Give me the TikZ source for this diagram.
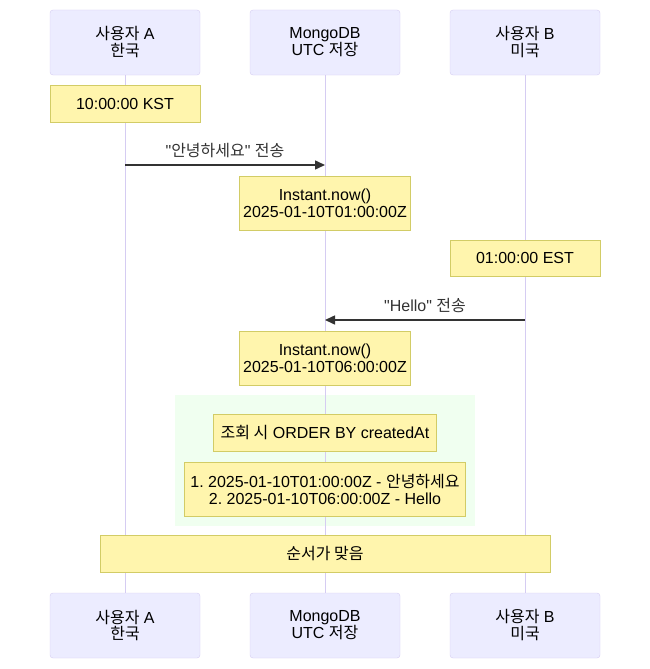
\documentclass[tikz,border=0pt]{standalone}
\usepackage{fontspec}
\setmainfont{Liberation Sans}
\newfontfamily\kr{Noto Sans CJK KR}
\usetikzlibrary{arrows.meta,positioning}
\frenchspacing
\definecolor{actorfill}{HTML}{ECECFF}
\definecolor{actorline}{HTML}{D5CCF2}
\definecolor{notefill}{HTML}{FFF5AD}
\definecolor{noteline}{HTML}{D2CC66}
\definecolor{rectbg}{RGB}{240,255,240}
\definecolor{msgcol}{HTML}{333333}
\tikzset{
  actor/.style={draw=actorline,fill=actorfill,rounded corners=3pt,minimum width=150pt,minimum height=65pt,align=center,text=black},
  note/.style={draw=noteline,fill=notefill,minimum height=37pt,align=center,text=black,inner sep=1pt},
  life/.style={draw=actorline,line width=1pt},
  msg/.style={draw=msgcol,line width=1.5pt,-{Triangle[length=10pt,width=9pt]}},
  msglabel/.style={text=msgcol}
}
\begin{document}
\begin{tikzpicture}[x=1pt,y=-1pt,font=\fontsize{16}{17}\selectfont]
    \useasboundingbox (0,0) rectangle (650,669);
    \fill[rectbg](175,395) rectangle (475,525.7);
    % participants
    \node[actor] (a) at (125,42.5) {{\kr 사용자} A\\{\kr 한국}};
    \node[actor] (db) at (325,42.5) {MongoDB\\UTC {\kr 저장}};
    \node[actor] (b) at (525,42.5) {{\kr 사용자} B\\{\kr 미국}};
    \node[actor] (ab) at (125,625.5) {{\kr 사용자} A\\{\kr 한국}};
    \node[actor] (dbb) at (325,625.5) {MongoDB\\UTC {\kr 저장}};
    \node[actor] (bb) at (525,625.5) {{\kr 사용자} B\\{\kr 미국}};
    \draw[life](a)--(ab);
    \draw[life](db)--(dbb);
    \draw[life](b)--(bb);
    % notes
    \node[note,minimum width=150pt] (kst) at (125,103.5) {10:00:00 KST};
    \node[note,minimum width=171pt,minimum height=54pt] (now1) at (325,203) {Instant.now()\\2025-01-10T01:00:00Z};
    \node[note,minimum width=150pt,minimum height=36pt] (est) at (525,258) {01:00:00 EST};
    \node[note,minimum width=171pt,minimum height=54pt] (now2) at (325,358) {Instant.now()\\2025-01-10T06:00:00Z};
    \node[note,minimum width=223pt] (query) at (325,433) {{\kr 조회 시} ORDER BY createdAt};
    \node[note,minimum width=281pt,minimum height=54pt] (list) at (325,489) {1. 2025-01-10T01:00:00Z - {\kr 안녕하세요}\\2. 2025-01-10T06:00:00Z - Hello};
    \node[note,minimum width=450pt] (order) at (325,554) {{\kr 순서가 맞음}};
    % messages
    \coordinate (m1a) at (125,165);
    \coordinate (m1b) at (325,165);
    \draw[msg](m1a)--(m1b)node[msglabel,midway,above=3pt]{\textquotedbl{\kr 안녕하세요}\textquotedbl{} {\kr 전송}};
    \coordinate (m2b) at (525,320);
    \coordinate (m2d) at (325,320);
    \draw[msg](m2b)--(m2d)node[msglabel,midway,above=3pt]{\textquotedbl Hello\textquotedbl{} {\kr 전송}};
  \end{tikzpicture}
\end{document}
